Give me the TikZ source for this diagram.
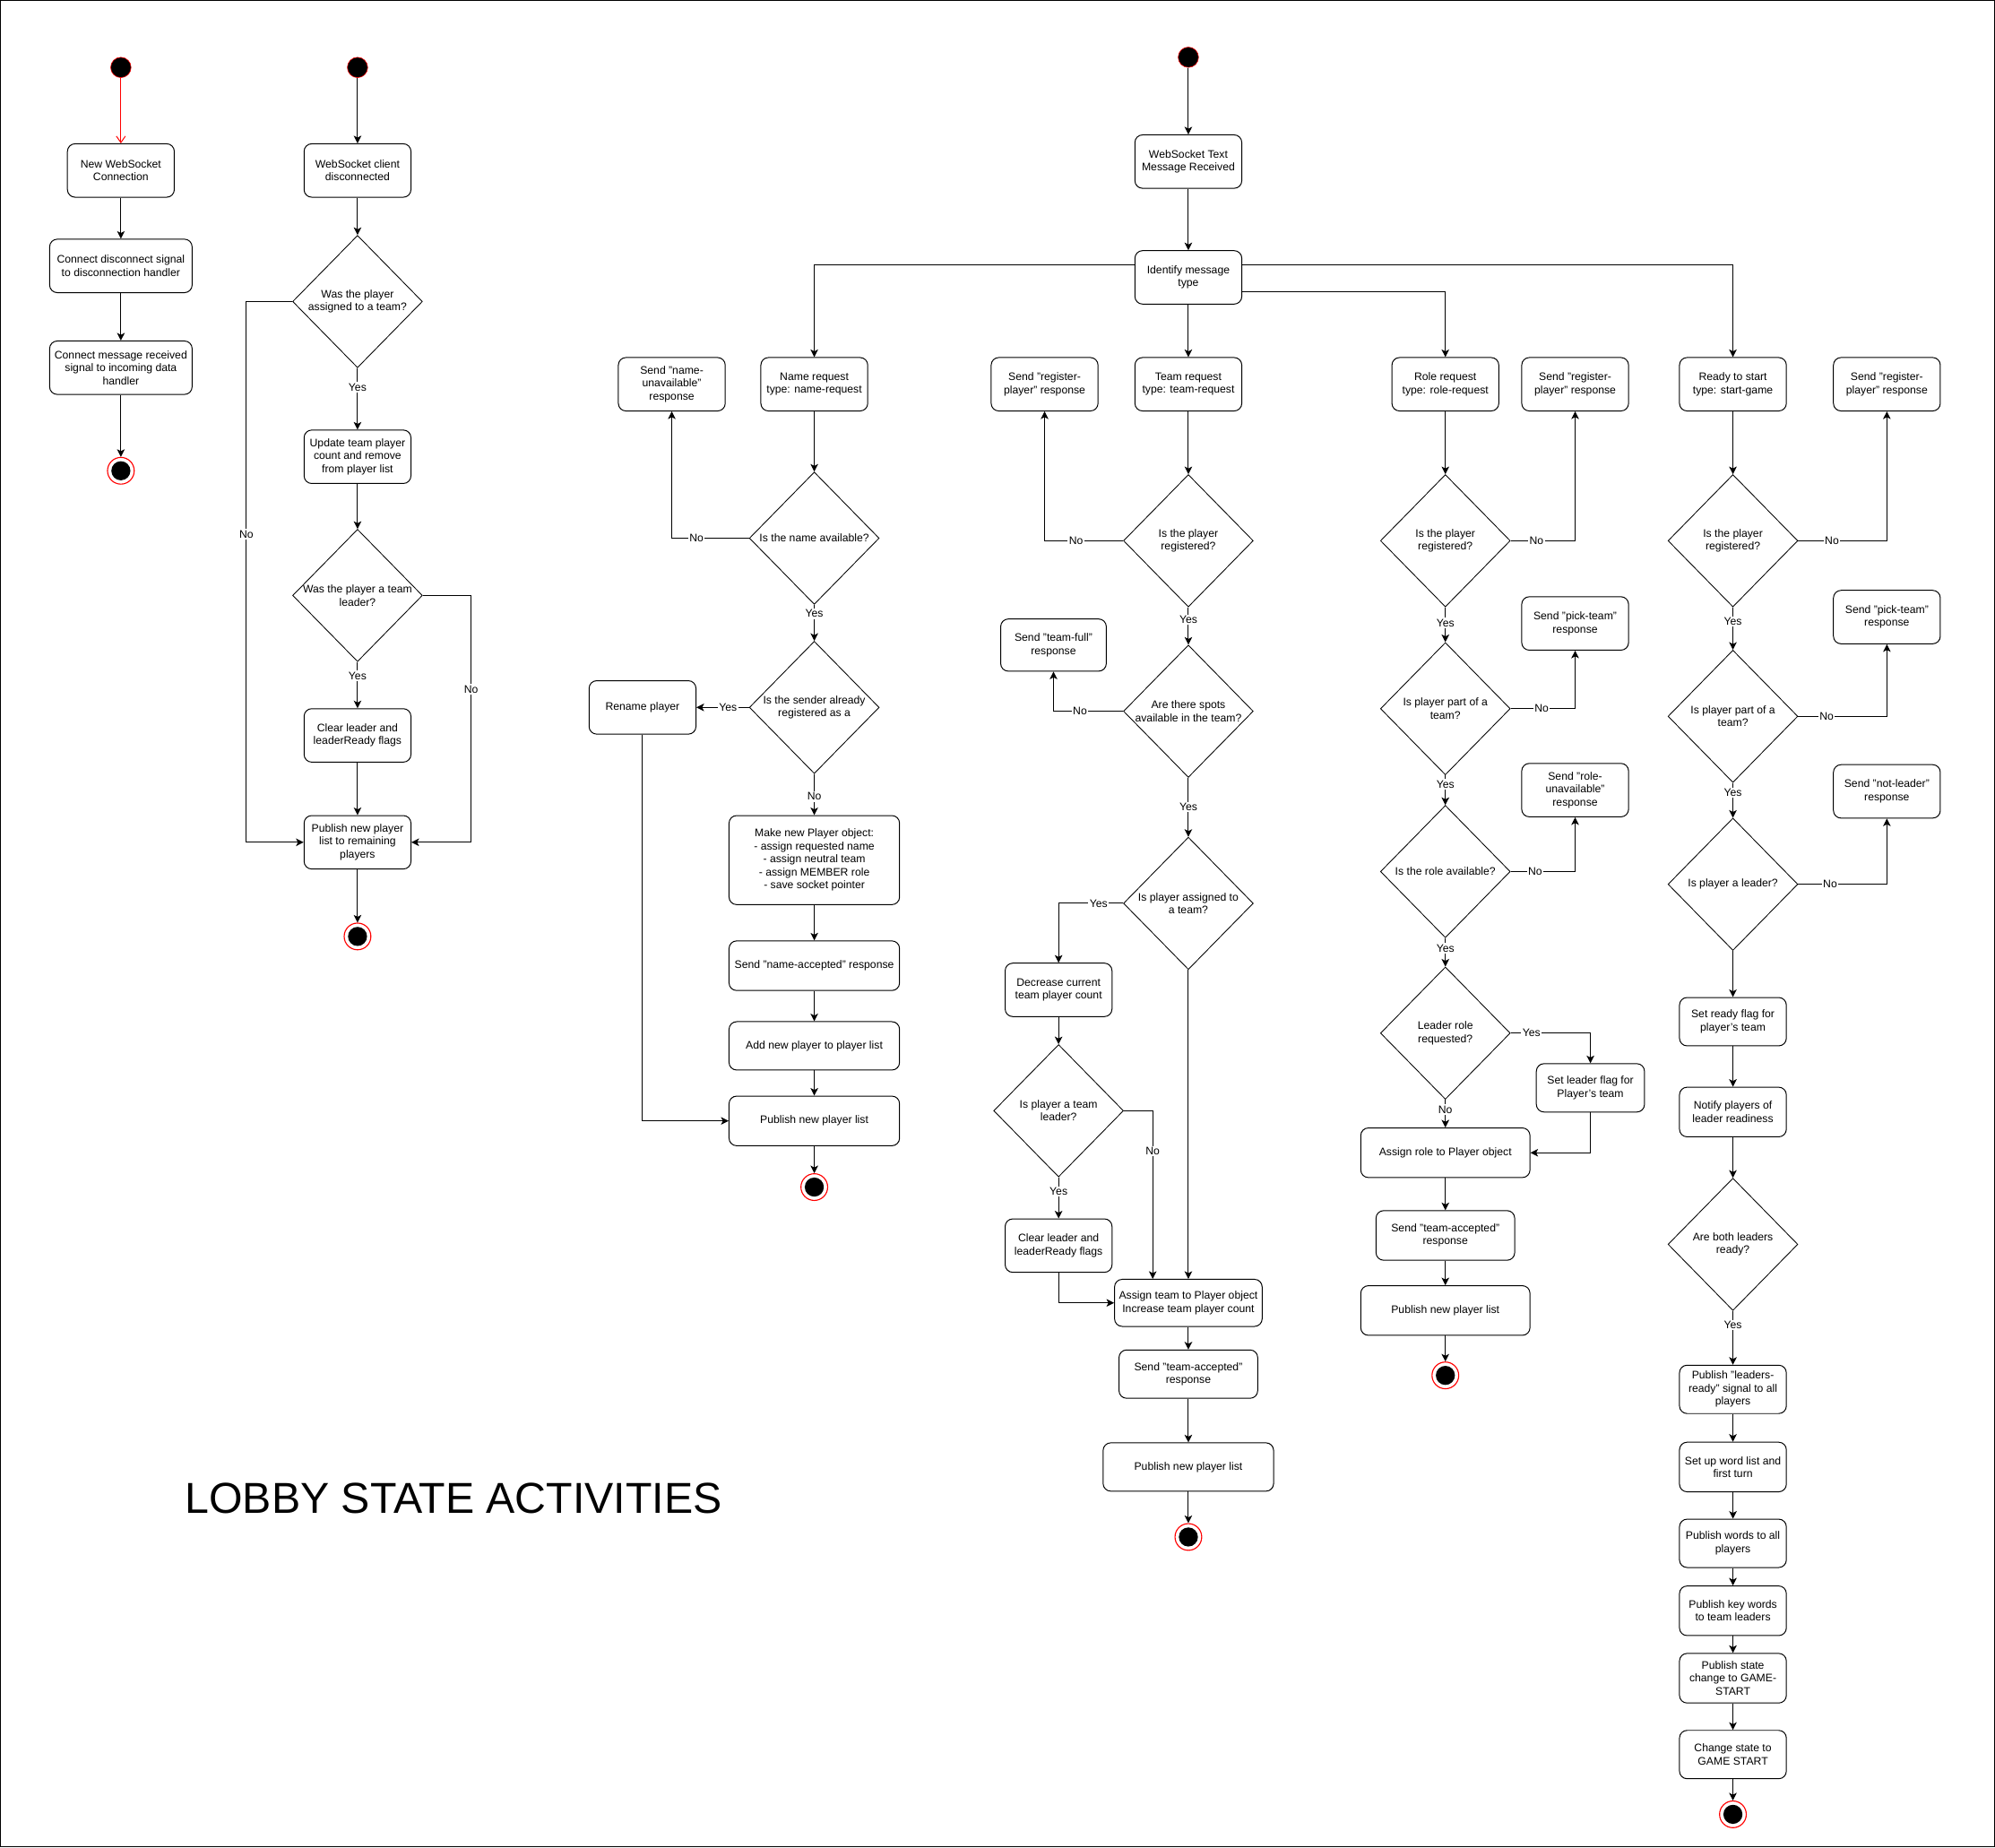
\documentclass[tikz,border=0pt]{standalone}
\usepackage{fontspec}
\setmainfont{Liberation Sans}
\usepackage{tikz}
\usetikzlibrary{arrows.meta, shapes.geometric}
\definecolor{dotred}{RGB}{255,0,0}
\tikzset{
  activity/.style={draw, rounded corners=6pt, fill=white, align=center,
                   minimum width=84pt, minimum height=42pt, inner sep=2pt,
                   font=\fontsize{8.6}{10.2}\selectfont, line width=0.7pt},
  decision/.style={diamond, draw, minimum width=102pt, minimum height=104pt,
                   inner sep=0pt, line width=0.6pt},
  question/.style={align=center, font=\fontsize{8.6}{10.2}\selectfont, inner sep=0pt},
  startdot/.style={circle, fill=black, draw=dotred, minimum size=16pt, inner sep=0pt},
  enddot/.style={circle, draw=dotred, fill=white, minimum size=21pt, inner sep=0pt,
                 line width=0.8pt,
                 path picture={\fill[black] (path picture bounding box.center) circle (7.5pt);}},
  arrow/.style={line width=0.7pt, -{Stealth[length=6pt, width=6pt, inset=1.5pt]}},
  initarrow/.style={line width=0.7pt, draw=dotred, -{Straight Barb[length=5pt, width=7pt]}},
  guard/.style={fill=white, inner sep=1pt, font=\fontsize{8.6}{10.2}\selectfont},
}

\begin{document}
\begin{tikzpicture}[x=1pt, y=-1pt]

  \useasboundingbox (0,0) rectangle (1568,1452);
  \draw[line width=1pt] (0.5,0.5) rectangle (1567.5,1451.5);

  % New connection
  \node[startdot] (s1) at (95,53) {};
  \node[activity] (wsnew) at (95,134) {New WebSocket\\Connection};
  \node[activity, minimum width=112pt] (conndisc) at (95,209)
    {Connect disconnect signal\\to disconnection handler};
  \node[activity, minimum width=112pt] (connmsg) at (95,289)
    {Connect message received\\signal to incoming data\\handler};
  \node[enddot] (e1) at (95,370) {};

  % Client disconnected
  \node[startdot] (s2) at (281,53) {};
  \node[activity] (wsdisc) at (281,134) {WebSocket client\\disconnected};
  \node[decision, label={[question]center:Was the player\\assigned to a team?}]
    (dassign) at (281,237) {};
  \node[activity] (upd) at (281,359) {Update team player\\count and remove\\from player list};
  \node[decision, label={[question]center:Was the player a team\\leader?}]
    (dleader) at (281,468) {};
  \node[activity] (clear1) at (281,578) {Clear leader and\\leaderReady flags};
  \node[activity] (pub1) at (281,662) {Publish new player\\list to remaining\\players};
  \node[enddot] (e2) at (281,736) {};

  % Text message received
  \node[startdot] (s3) at (934,45) {};
  \node[activity] (wstext) at (934,127) {WebSocket Text\\Message Received};
  \node[activity] (ident) at (934,218) {Identify message\\type};

  % Name request
  \node[activity] (nreq) at (640,302) {Name request\\type: name-request};
  \node[activity] (nunav) at (528,302) {Send "name-\\unavailable"\\response};
  \node[decision, label={[question]center:Is the name available?}]
    (dname) at (640,423) {};
  \node[decision, label={[question]center:Is the sender already\\registered as a}]
    (dsender) at (640,556) {};
  \node[activity] (rename) at (505,556) {Rename player};
  \node[activity, minimum width=134pt, minimum height=70pt] (mkplayer) at (640,676)
    {Make new Player object:\\- assign requested name\\- assign neutral team\\
     - assign MEMBER role\\- save socket pointer};
  \node[activity, minimum width=134pt, minimum height=39pt] (nacc) at (640,759)
    {Send "name-accepted" response};
  \node[activity, minimum width=134pt, minimum height=38pt] (addp) at (640,822)
    {Add new player to player list};
  \node[activity, minimum width=134pt, minimum height=39pt] (pubn) at (640,881)
    {Publish new player list};
  \node[enddot] (en) at (640,933) {};

  % Team request
  \node[activity] (treq) at (934,302) {Team request\\type: team-request};
  \node[activity] (sreg1) at (821,302) {Send "register-\\player" response};
  \node[decision, label={[question]center:Is the player\\registered?}]
    (dtreg) at (934,425) {};
  \node[activity, minimum width=83pt, minimum height=41pt] (teamfull) at (828,507)
    {Send "team-full"\\response};
  \node[decision, label={[question]center:Are there spots\\available in the team?}]
    (dspots) at (934,559) {};
  \node[decision, label={[question]center:Is player assigned to\\a team?}]
    (dassign2) at (934,710) {};
  \node[activity] (decr) at (832,778) {Decrease current\\team player count};
  \node[decision, label={[question]center:Is player a team\\leader?}]
    (dtl) at (832,873) {};
  \node[activity] (clear2) at (832,979) {Clear leader and\\leaderReady flags};
  \node[activity, minimum width=116pt, minimum height=37pt] (assignt) at (934,1024)
    {Assign team to Player object\\Increase team player count};
  \node[activity, minimum width=109pt, minimum height=38pt] (tacc) at (934,1080)
    {Send "team-accepted"\\response};
  \node[activity, minimum width=134pt, minimum height=38pt] (pubt) at (934,1153)
    {Publish new player list};
  \node[enddot] (et) at (934,1208) {};

  % Role request
  \node[activity] (rreq) at (1136,302) {Role request\\type: role-request};
  \node[activity] (sreg2) at (1238,302) {Send "register-\\player" response};
  \node[decision, label={[question]center:Is the player\\registered?}]
    (drreg) at (1136,425) {};
  \node[activity] (pick1) at (1238,490) {Send "pick-team"\\response};
  \node[decision, label={[question]center:Is player part of a\\team?}]
    (drteam) at (1136,557) {};
  \node[activity] (roleunav) at (1238,621) {Send "role-\\unavailable"\\response};
  \node[decision, label={[question]center:Is the role available?}]
    (dravail) at (1136,685) {};
  \node[decision, label={[question]center:Leader role\\requested?}]
    (dleadreq) at (1136,812) {};
  \node[activity, minimum width=85pt, minimum height=38pt] (setlead) at (1250,855)
    {Set leader flag for\\Player's team};
  \node[activity, minimum width=133pt, minimum height=39pt] (assignr) at (1136,906)
    {Assign role to Player object};
  \node[activity, minimum width=109pt, minimum height=39pt] (tacc2) at (1136,971)
    {Send "team-accepted"\\response};
  \node[activity, minimum width=133pt, minimum height=39pt] (pubr) at (1136,1030)
    {Publish new player list};
  \node[enddot] (er) at (1136,1081) {};

  % Start game request
  \node[activity] (ready) at (1362,302) {Ready to start\\type: start-game};
  \node[activity] (sreg3) at (1483,302) {Send "register-\\player" response};
  \node[decision, label={[question]center:Is the player\\registered?}]
    (dsreg) at (1362,425) {};
  \node[activity] (pick2) at (1483,485) {Send "pick-team"\\response};
  \node[decision, label={[question]center:Is player part of a\\team?}]
    (dsteam) at (1362,563) {};
  \node[activity] (notlead) at (1483,622) {Send "not-leader"\\response};
  \node[decision, label={[question]center:Is player a leader?}]
    (dsleader) at (1362,695) {};
  \node[activity, minimum height=38pt] (setready) at (1362,803)
    {Set ready flag for\\player's team};
  \node[activity, minimum height=39pt] (notify) at (1362,874)
    {Notify players of\\leader readiness};
  \node[decision, label={[question]center:Are both leaders\\ready?}]
    (dboth) at (1362,978) {};
  \node[activity, minimum height=38pt] (publead) at (1362,1092)
    {Publish "leaders-\\ready" signal to all\\players};
  \node[activity, minimum height=39pt] (setup) at (1362,1153)
    {Set up word list and\\first turn};
  \node[activity, minimum height=38pt] (pubwords) at (1362,1213)
    {Publish words to all\\players};
  \node[activity, minimum height=39pt] (pubkey) at (1362,1266)
    {Publish key words\\to team leaders};
  \node[activity, minimum height=39pt] (pubstate) at (1362,1319)
    {Publish state\\change to GAME-\\START};
  \node[activity, minimum height=38pt] (change) at (1362,1379)
    {Change state to\\GAME START};
  \node[enddot] (es) at (1362,1426) {};

  \node[anchor=west, font=\fontsize{34}{40}\selectfont] (title) at (142,1178)
    {LOBBY STATE ACTIVITIES};

  % Arrows new connection
  \draw[initarrow] (s1) -- (wsnew);
  \draw[arrow] (wsnew) -- (conndisc);
  \draw[arrow] (conndisc) -- (connmsg);
  \draw[arrow] (connmsg) -- (e1);

  % Arrows disconnect
  \draw[arrow] (s2) -- (wsdisc);
  \draw[arrow] (wsdisc) -- (dassign);
  \draw[arrow] (dassign) -- node[guard, pos=0.31] {Yes} (upd);
  \draw[arrow] (dassign.west) -- ++(-36,0) |- node[guard, pos=0.215] {No} (pub1.west);
  \draw[arrow] (upd) -- (dleader);
  \draw[arrow] (dleader) -- node[guard, pos=0.3] {Yes} (clear1);
  \draw[arrow] (dleader.east) -- ++(38,0) |- node[guard, pos=0.19] {No} (pub1.east);
  \draw[arrow] (clear1) -- (pub1);
  \draw[arrow] (pub1) -- (e2);

  % Message dispatch
  \draw[arrow] (s3) -- (wstext);
  \draw[arrow] (wstext) -- (ident);
  \draw[arrow] ([yshift=10pt]ident.west) -| (nreq);
  \draw[arrow] (ident) -- (treq);
  \draw[arrow] ([yshift=-11pt]ident.east) -| (rreq);
  \draw[arrow] ([yshift=10pt]ident.east) -| (ready);

  % Arrows name request
  \draw[arrow] (nreq) -- (dname);
  \draw[arrow] (dname.west) -| node[guard, pos=0.34] {No} (nunav);
  \draw[arrow] (dname) -- node[guard, pos=0.25] {Yes} (dsender);
  \draw[arrow] (dsender) -- node[guard, pos=0.4] {Yes} (rename);
  \draw[arrow] (dsender) -- node[guard, pos=0.55] {No} (mkplayer);
  \draw[arrow] (mkplayer) -- (nacc);
  \draw[arrow] (nacc) -- (addp);
  \draw[arrow] (addp) -- (pubn);
  \draw[arrow] (rename) |- (pubn);
  \draw[arrow] (pubn) -- (en);

  % Arrows team request
  \draw[arrow] (treq) -- (dtreg);
  \draw[arrow] (dtreg.west) -| node[guard, pos=0.3] {No} (sreg1);
  \draw[arrow] (dtreg) -- node[guard, pos=0.33] {Yes} (dspots);
  \draw[arrow] (dspots.west) -| node[guard, pos=0.31] {No} (teamfull);
  \draw[arrow] (dspots) -- node[guard, pos=0.5] {Yes} (dassign2);
  \draw[arrow] (dassign2.west) -| node[guard, pos=0.19] {Yes} (decr);
  \draw[arrow] (decr) -- (dtl);
  \draw[arrow] (dtl.east) -| node[guard, pos=0.62] {No} ([xshift=-28pt]assignt.north);
  \draw[arrow] (dtl) -- node[guard, pos=0.35] {Yes} (clear2);
  \draw[arrow] (clear2) |- (assignt);
  \draw[arrow] (dassign2) -- (assignt);
  \draw[arrow] (assignt) -- (tacc);
  \draw[arrow] (tacc) -- (pubt);
  \draw[arrow] (pubt) -- (et);

  % Arrows role request
  \draw[arrow] (rreq) -- (drreg);
  \draw[arrow] (drreg.east) -| node[guard, pos=0.2] {No} (sreg2);
  \draw[arrow] (drreg) -- node[guard, pos=0.45] {Yes} (drteam);
  \draw[arrow] (drteam.east) -| node[guard, pos=0.24] {No} (pick1);
  \draw[arrow] (drteam) -- node[guard, pos=0.3] {Yes} (dravail);
  \draw[arrow] (dravail.east) -| node[guard, pos=0.19] {No} (roleunav);
  \draw[arrow] (dravail) -- node[guard, pos=0.35] {Yes} (dleadreq);
  \draw[arrow] (dleadreq.east) -| node[guard, pos=0.13] {Yes} (setlead);
  \draw[arrow] (dleadreq) -- node[guard, pos=0.35] {No} (assignr);
  \draw[arrow] (setlead) |- (assignr);
  \draw[arrow] (assignr) -- (tacc2);
  \draw[arrow] (tacc2) -- (pubr);
  \draw[arrow] (pubr) -- (er);

  % Arrows start game
  \draw[arrow] (ready) -- (dsreg);
  \draw[arrow] (dsreg.east) -| node[guard, pos=0.19] {No} (sreg3);
  \draw[arrow] (dsreg) -- node[guard, pos=0.33] {Yes} (dsteam);
  \draw[arrow] (dsteam.east) -| node[guard, pos=0.16] {No} (pick2);
  \draw[arrow] (dsteam) -- node[guard, pos=0.29] {Yes} (dsleader);
  \draw[arrow] (dsleader.east) -| node[guard, pos=0.18] {No} (notlead);
  \draw[arrow] (dsleader) -- (setready);
  \draw[arrow] (setready) -- (notify);
  \draw[arrow] (notify) -- (dboth);
  \draw[arrow] (dboth) -- node[guard, pos=0.26] {Yes} (publead);
  \draw[arrow] (publead) -- (setup);
  \draw[arrow] (setup) -- (pubwords);
  \draw[arrow] (pubwords) -- (pubkey);
  \draw[arrow] (pubkey) -- (pubstate);
  \draw[arrow] (pubstate) -- (change);
  \draw[arrow] (change) -- (es);

\end{tikzpicture}
\end{document}
